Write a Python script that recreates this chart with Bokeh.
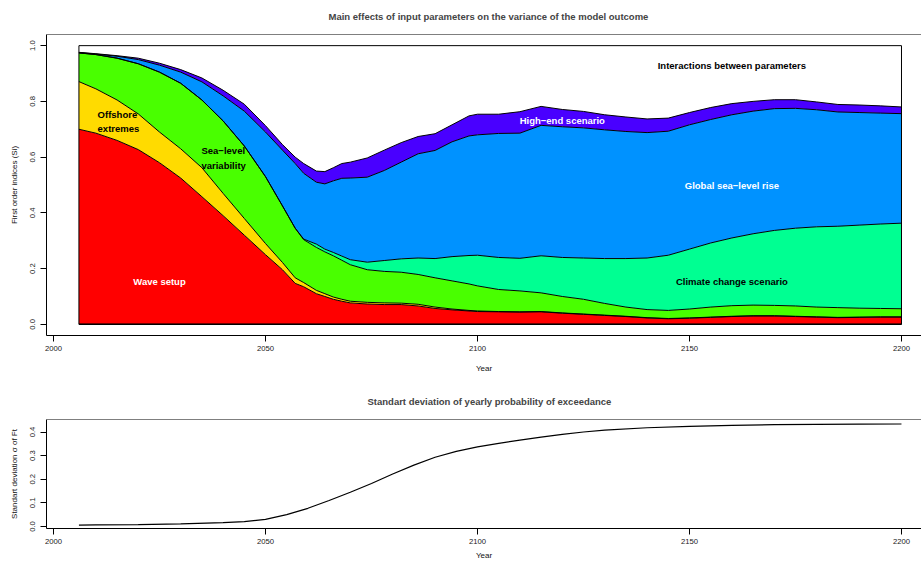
import numpy as np
from bokeh.plotting import figure
from bokeh.models import Range1d, FixedTicker, PrintfTickFormatter, Span
from bokeh.layouts import column
from bokeh.embed import file_html
from bokeh.resources import INLINE
from bokeh.core.properties import value

# ---------------- data (first order Sobol indices) ----------------
years = [2006, 2010, 2015, 2020, 2025, 2030, 2035, 2040, 2045, 2050, 2054, 2057, 2059, 2062,
         2064, 2066, 2068, 2070, 2074, 2078, 2082, 2086, 2090, 2094, 2098, 2100, 2105, 2110,
         2115, 2120, 2125, 2130, 2135, 2140, 2145, 2150, 2155, 2160, 2165, 2170, 2175, 2180,
         2185, 2190, 2195, 2200]

wave_setup = [0.700, 0.686, 0.660, 0.627, 0.580, 0.525, 0.458, 0.390, 0.320, 0.250, 0.196, 0.147,
              0.135, 0.110, 0.100, 0.090, 0.083, 0.077, 0.073, 0.071, 0.071, 0.066, 0.057, 0.052,
              0.048, 0.046, 0.045, 0.044, 0.045, 0.040, 0.036, 0.032, 0.028, 0.023, 0.020, 0.022,
              0.025, 0.028, 0.030, 0.030, 0.028, 0.026, 0.024, 0.025, 0.026, 0.026]

offshore_extremes = [0.171, 0.159, 0.145, 0.128, 0.110, 0.105, 0.104, 0.080, 0.060, 0.040, 0.026,
                     0.020, 0.015, 0.012, 0.010, 0.008, 0.007, 0.006, 0.006, 0.006, 0.005, 0.006,
                     0.005, 0.003, 0.002, 0.002, 0.001, 0.001, 0.001, 0.001, 0.001, 0.001, 0.001,
                     0.001, 0.001, 0.001, 0.001, 0.001, 0.001, 0.001, 0.001, 0.001, 0.001, 0.001,
                     0.001, 0.001]

sea_level_variability = [0.103, 0.123, 0.150, 0.180, 0.215, 0.235, 0.243, 0.260, 0.260, 0.240,
                         0.203, 0.178, 0.154, 0.154, 0.150, 0.148, 0.140, 0.131, 0.117, 0.113,
                         0.111, 0.107, 0.105, 0.101, 0.095, 0.090, 0.079, 0.075, 0.067, 0.059,
                         0.053, 0.042, 0.033, 0.029, 0.029, 0.032, 0.036, 0.038, 0.038, 0.037,
                         0.037, 0.035, 0.035, 0.032, 0.030, 0.029]

climate_change_scenario = [0.0, 0.0, 0.0, 0.0, 0.0, 0.0, 0.0, 0.0, 0.0, 0.0, 0.0, 0.0, 0.002,
                           0.012, 0.010, 0.012, 0.015, 0.018, 0.027, 0.039, 0.048, 0.059, 0.069,
                           0.087, 0.102, 0.110, 0.115, 0.117, 0.133, 0.140, 0.148, 0.161, 0.174,
                           0.185, 0.198, 0.215, 0.230, 0.243, 0.256, 0.269, 0.279, 0.288, 0.292,
                           0.298, 0.303, 0.307]

global_sea_level_rise = [0.001, 0.002, 0.007, 0.015, 0.025, 0.040, 0.065, 0.090, 0.125, 0.160,
                         0.200, 0.232, 0.236, 0.222, 0.234, 0.257, 0.279, 0.293, 0.305, 0.323,
                         0.347, 0.374, 0.388, 0.412, 0.429, 0.432, 0.445, 0.449, 0.468, 0.469,
                         0.467, 0.462, 0.456, 0.450, 0.445, 0.446, 0.443, 0.442, 0.440, 0.437,
                         0.430, 0.420, 0.410, 0.404, 0.398, 0.393]

high_end_scenario = [0.001, 0.001, 0.002, 0.005, 0.007, 0.009, 0.014, 0.020, 0.025, 0.023, 0.020,
                     0.023, 0.035, 0.040, 0.044, 0.047, 0.053, 0.057, 0.069, 0.073, 0.070, 0.062,
                     0.060, 0.061, 0.072, 0.074, 0.069, 0.077, 0.068, 0.062, 0.059, 0.054, 0.052,
                     0.049, 0.047, 0.044, 0.043, 0.040, 0.035, 0.032, 0.031, 0.028, 0.027, 0.027,
                     0.026, 0.024]

# standard deviation of the yearly probability of exceedance
sd_years = [2006, 2010, 2020, 2030, 2040, 2045, 2050, 2055, 2060, 2065, 2070, 2075, 2080, 2085,
            2090, 2095, 2100, 2105, 2110, 2115, 2120, 2125, 2130, 2140, 2150, 2160, 2170, 2180,
            2190, 2200]
sd_values = [0.006, 0.007, 0.008, 0.011, 0.016, 0.021, 0.030, 0.050, 0.077, 0.110, 0.145, 0.182,
             0.222, 0.260, 0.293, 0.318, 0.337, 0.352, 0.366, 0.378, 0.390, 0.400, 0.408, 0.418,
             0.424, 0.428, 0.431, 0.432, 0.433, 0.434]

x_ticks = [2000, 2050, 2100, 2150, 2200]
y_ticks_top = [0.0, 0.2, 0.4, 0.6, 0.8, 1.0]
y_ticks_bottom = [0.0, 0.1, 0.2, 0.3, 0.4]

layers = [wave_setup, offshore_extremes, sea_level_variability,
          climate_change_scenario, global_sea_level_rise, high_end_scenario]
colors = ["#FF0000", "#FFDB00", "#49FF00", "#00FF92", "#0092FF", "#4900FF"]

FONT = "Liberation Sans"


def style(p, title_offset, xlabel_standoff):
    p.xgrid.visible = False
    p.ygrid.visible = False
    p.outline_line_color = None
    p.background_fill_color = "white"
    p.border_fill_color = "white"
    for ax in (p.xaxis[0], p.yaxis[0]):
        ax.axis_line_color = "black"
        ax.axis_line_width = 1
        ax.major_tick_line_color = "black"
        ax.major_tick_out = 6
        ax.major_tick_in = 0
        ax.minor_tick_line_color = None
        ax.major_label_text_font = FONT
        ax.major_label_text_font_size = "7.7px"
        ax.major_label_text_color = "#222222"
        ax.axis_label_text_font = FONT
        ax.axis_label_text_font_size = "8px"
        ax.axis_label_text_font_style = "normal"
        ax.axis_label_text_color = "#111111"
    p.xaxis[0].ticker = FixedTicker(ticks=x_ticks)
    p.xaxis[0].major_label_standoff = 4
    p.xaxis[0].axis_label_standoff = xlabel_standoff
    p.yaxis[0].major_label_orientation = "vertical"
    p.yaxis[0].major_label_standoff = 5
    p.yaxis[0].axis_label_standoff = 9
    p.yaxis[0].formatter = PrintfTickFormatter(format="%.1f")
    # top edge of the box (its right edge lies outside the page, as in the original)
    p.add_layout(Span(location=p.y_range.end, dimension="width",
                      line_color="black", line_width=1))
    p.title.text_font = FONT
    p.title.text_font_size = "9.5px"
    p.title.text_font_style = "bold"
    p.title.align = "left"
    p.title.vertical_align = "top"
    p.title.offset = title_offset
    p.title.standoff = 21


X_RANGE = (1998.35, 2204.72)

# ---------------- top: stacked main effects ----------------
p1 = figure(width=921, height=385, output_backend="svg", toolbar_location=None,
            x_range=Range1d(*X_RANGE), y_range=Range1d(-0.04, 1.04),
            min_border_left=46, min_border_right=0, min_border_top=34, min_border_bottom=50,
            title="Main effects of input parameters on the variance of the model outcome",
            x_axis_label="Year", y_axis_label="First order indices (Si)")
style(p1, 282, 10)
p1.yaxis[0].ticker = FixedTicker(ticks=y_ticks_top)

yrs = np.array(years, dtype=float)
lower = np.zeros(len(yrs))
tops = []
for vals, col in zip(layers, colors):
    upper = lower + np.array(vals)
    p1.varea(x=yrs, y1=lower, y2=upper, fill_color=col, fill_alpha=1.0)
    tops.append(upper)
    lower = upper
for upper in tops:
    p1.line(x=yrs, y=upper, line_color="black", line_width=1)
p1.line(x=yrs, y=np.zeros(len(yrs)), line_color="black", line_width=1.5)
p1.quad(left=[years[0]], right=[years[-1]], bottom=[0.0], top=[1.0],
        fill_color=None, line_color="black", line_width=1)

tf = value(FONT)
p1.text(x=[2010.4], y=[0.727], text=["Offshore\nextremes"], text_font=tf, text_font_size="9.5px",
        text_font_style="bold", text_color="black", text_align="left", text_baseline="middle",
        text_line_height=1.3)
p1.text(x=[2034.9], y=[0.597], text=["Sea\u2212level\nvariability"], text_font=tf,
        text_font_size="9.5px", text_font_style="bold", text_color="black", text_align="left",
        text_baseline="middle", text_line_height=1.3)
labels = [
    (2025, 0.155, "Wave setup", "white"),
    (2120, 0.732, "High\u2212end scenario", "white"),
    (2160, 0.498, "Global sea\u2212level rise", "white"),
    (2160, 0.152, "Climate change scenario", "black"),
    (2160, 0.930, "Interactions between parameters", "black"),
]
for x, y, t, c in labels:
    p1.text(x=[x], y=[y], text=[t], text_font=tf, text_font_size="9.5px", text_font_style="bold",
            text_color=c, text_align="center", text_baseline="middle")

# ---------------- bottom: standard deviation ----------------
p2 = figure(width=921, height=179, output_backend="svg", toolbar_location=None,
            x_range=Range1d(*X_RANGE), y_range=Range1d(-0.0085, 0.453),
            min_border_left=46, min_border_right=0, min_border_top=34, min_border_bottom=36,
            title="Standart deviation of yearly probability of exceedance",
            x_axis_label="Year", y_axis_label="Standart deviation \u03c3 of Ft")
style(p2, 321, 4)
p2.yaxis[0].ticker = FixedTicker(ticks=y_ticks_bottom)
p2.line(x=sd_years, y=sd_values, line_color="black", line_width=1.2)

layout = column(p1, p2, spacing=0)
open("out.html", "w").write(file_html(layout, INLINE))
